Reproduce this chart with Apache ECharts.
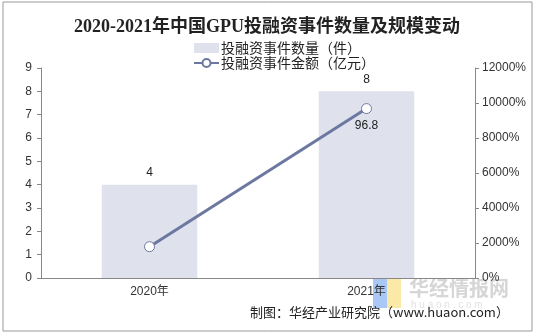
<!DOCTYPE html>
<html><head><meta charset="utf-8">
<script src="https://cdn.jsdelivr.net/npm/echarts@6/dist/echarts.min.js"></script>
<style>html,body{margin:0;padding:0;background:#fff}#c{width:534px;height:334px}</style>
</head><body><div id="c"></div>
<script>
const categories = ['2020年', '2021年'];
const eventCounts = [4, 8];
const amounts = [17.9, 96.8];
const leftTicks = [0, 9, 1];
const rightTicks = [0, 120, 20];
const amountLabelShown = [false, true];

const chart = echarts.init(document.getElementById('c'));
chart.setOption({
  animation: false,
  backgroundColor: '#fff',
  title: {
    text: '2020-2021年中国GPU投融资事件数量及规模变动',
    left: 'center', top: 13,
    textStyle: {fontFamily: "'Liberation Serif','Noto Sans CJK SC',serif", fontSize: 18, fontWeight: 'bold', color: '#222'}
  },
  legend: {
    orient: 'vertical', left: 188, top: 36, itemGap: 1, itemWidth: 25, itemHeight: 10,
    textStyle: {fontFamily: "'Noto Sans CJK SC',sans-serif", fontSize: 14, color: '#222', padding: [0,0,0,-3]},
    data: [
      {name: '投融资事件数量（件）', icon: 'rect'},
      {name: '投融资事件金额（亿元）'}
    ]
  },
  grid: {left: 41, right: 59, top: 68, bottom: 56},
  xAxis: {
    type: 'category', data: categories,
    axisLine: {lineStyle: {color: '#888'}},
    axisTick: {lineStyle: {color: '#888'}, length: 4},
    axisLabel: {color: '#333', fontSize: 12, fontFamily: "'Liberation Sans','Noto Sans CJK SC',sans-serif", margin: 8}
  },
  yAxis: [
    {type: 'value', min: leftTicks[0], max: leftTicks[1], interval: leftTicks[2],
     axisLine: {show: true, lineStyle: {color: '#888'}},
     axisTick: {show: true, length: 4, lineStyle: {color: '#888'}},
     splitLine: {show: false},
     axisLabel: {color: '#333', fontSize: 12, fontFamily: "'Liberation Sans',sans-serif", margin: 9}},
    {type: 'value', min: rightTicks[0], max: rightTicks[1], interval: rightTicks[2], position: 'right',
     axisLine: {show: true, lineStyle: {color: '#888'}},
     axisTick: {show: true, length: 4, lineStyle: {color: '#888'}},
     splitLine: {show: false},
     axisLabel: {color: '#333', fontSize: 12, fontFamily: "'Liberation Sans',sans-serif", margin: 7,
       formatter: v => (v * 100) + '%'}}
  ],
  series: [
    {name: '投融资事件数量（件）', type: 'bar', yAxisIndex: 0, data: eventCounts, barWidth: '44%',
     itemStyle: {color: '#dfe2ec'},
     label: {show: true, position: 'top', color: '#222', fontSize: 12, fontFamily: "'Liberation Sans',sans-serif", distance: 6}},
    {name: '投融资事件金额（亿元）', type: 'line', yAxisIndex: 1,
     data: amounts.map((v, i) => ({value: v, label: {show: amountLabelShown[i]}})),
     symbol: 'circle', symbolSize: 10, showAllSymbol: true,
     lineStyle: {color: '#6c78a0', width: 3},
     itemStyle: {color: '#fff', borderColor: '#6c78a0', borderWidth: 1},
     label: {position: 'bottom', color: '#222', fontSize: 12, fontFamily: "'Liberation Sans',sans-serif", distance: 6}}
  ],
  graphic: [
    {type: 'rect', shape: {x: 3, y: 2, width: 529, height: 329}, style: {fill: 'none', stroke: '#999', lineWidth: 1}, silent: true, z: 100},
    {type: 'rect', shape: {x: 373, y: 278, width: 14, height: 30}, style: {fill: '#a9c8f5'}},
    {type: 'rect', shape: {x: 387, y: 278, width: 14, height: 30}, style: {fill: '#fbe9a8'}},
    {type: 'text', left: 409, top: 278, style: {text: '华经情报网', fill: '#d6d6d6', font: "bold 20px 'Noto Sans CJK SC'"}},
    {type: 'text', left: 411, top: 300, style: {text: 'h u a o n . c o m', fill: '#e2e2e2', font: "10px 'Liberation Sans'"}},
    {type: 'text', left: 250, top: 306, style: {text: '制图：华经产业研究院（www.huaon.com）', fill: '#222', font: "13px 'Noto Sans CJK SC'"}}
  ]
});
</script></body></html>
